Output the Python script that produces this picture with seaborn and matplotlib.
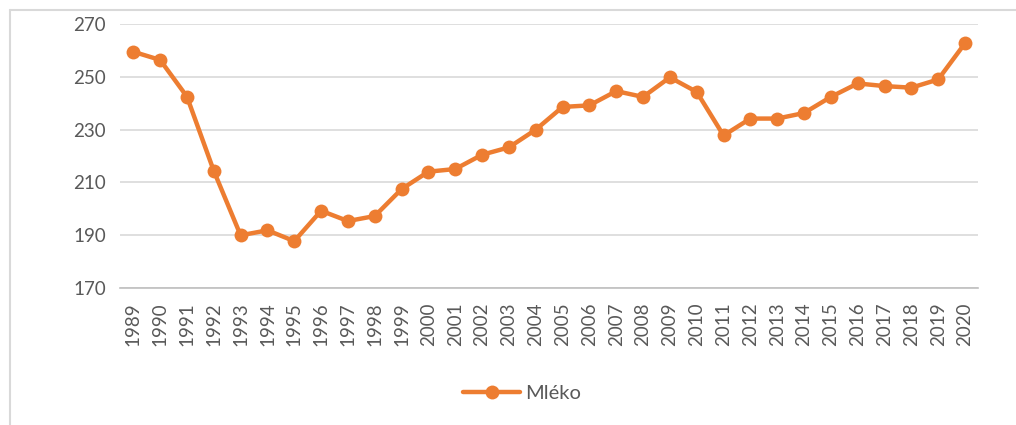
import numpy as np
import pandas as pd
import matplotlib
matplotlib.use("Agg")
import matplotlib.pyplot as plt
import seaborn as sns
from matplotlib.lines import Line2D

years = [str(y) for y in range(1989, 2021)]
mleko = [259.5, 256.4, 242.5, 214.4, 190.0, 191.9, 187.8, 199.3, 195.4, 197.3,
         207.5, 214.1, 215.1, 220.5, 223.3, 230.0, 238.6, 239.2, 244.6, 242.4,
         249.8, 244.3, 227.8, 234.2, 234.2, 236.3, 242.4, 247.5, 246.5, 245.9,
         249.0, 262.7]

df = pd.DataFrame({"pos": np.arange(len(years)), "rok": years, "Mléko": mleko})

sns.set_theme(style="white")
plt.rcParams["font.family"] = ["Lato", "DejaVu Sans"]

orange = "#ED7D31"
grid_c = "#D9D9D9"
text_c = "#595959"

fig = plt.figure(figsize=(10.16, 4.25), dpi=100)
ax = fig.add_axes([0.118, 0.322, 0.845, 0.6215])

sns.lineplot(data=df, x="pos", y="Mléko", ax=ax, color=orange, linewidth=3.2,
             marker="o", markersize=10, markeredgewidth=0, legend=False)

ax.set_xlim(-0.5, len(years) - 0.5)
ax.set_ylim(170, 270)
ax.set_yticks(range(170, 271, 20))
ax.set_xticks(df["pos"])
ax.set_xticklabels(years, rotation=90)
ax.set_xticks(np.arange(-0.5, len(years)), minor=True)
ax.tick_params(axis="x", which="major", length=0, pad=10, labelsize=13.5, labelcolor=text_c)
ax.tick_params(axis="x", which="minor", length=6, width=1.2, color="#BFBFBF", direction="out")
ax.tick_params(axis="y", length=0, pad=10, labelsize=13.5, labelcolor=text_c)
ax.set_xlabel("")
ax.set_ylabel("")

ax.yaxis.grid(True, color=grid_c, linewidth=1.2)
ax.set_axisbelow(True)
for s in ["top", "right", "left"]:
    ax.spines[s].set_visible(False)
ax.spines["bottom"].set_color("#BFBFBF")
ax.spines["bottom"].set_linewidth(1.2)

# chart frame (only left and top edges visible in the crop)
fig.add_artist(Line2D([10 / 1016, 10 / 1016], [0, 1 - 10 / 425], transform=fig.transFigure,
                      color=grid_c, linewidth=1.5))
fig.add_artist(Line2D([10 / 1016, 1], [1 - 10 / 425, 1 - 10 / 425], transform=fig.transFigure,
                      color=grid_c, linewidth=1.5))

handle = Line2D([], [], color=orange, linewidth=3.2, marker="o", markersize=10, markeredgewidth=0)
fig.legend([handle], ["Mléko"], loc="center", bbox_to_anchor=(522 / 1016, 1 - 393 / 425),
           frameon=False, fontsize=14.5, labelcolor=text_c, handlelength=2.8, handletextpad=0.25)

fig.savefig("out.png", dpi=100)
